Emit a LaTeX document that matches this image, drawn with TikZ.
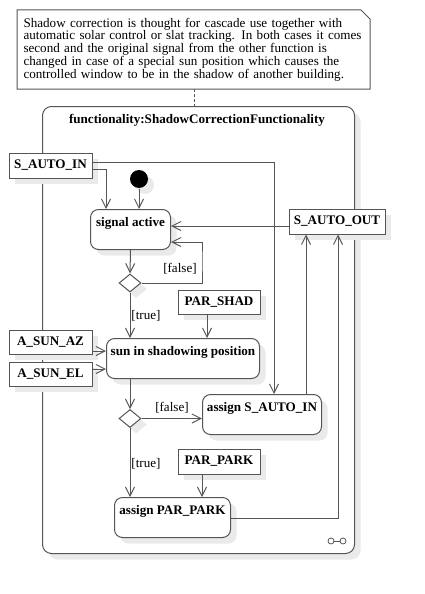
\documentclass[tikz,border=0pt]{standalone}
\usepackage{fontspec}
\setmainfont{Liberation Serif}
\usetikzlibrary{arrows.meta,shapes.geometric,shadows}

\definecolor{edge}{RGB}{85,85,85}
\definecolor{shade}{RGB}{234,234,234}
\newcommand{\diafont}{\fontsize{13.1}{12.8}\selectfont}

\begin{document}
\begin{tikzpicture}[x=1pt,y=-1pt,line width=1pt,
  shady/.style={drop shadow={shadow xshift=6pt,shadow yshift=-6pt,fill=shade,opacity=1}},
  obj/.style={draw=edge,fill=white,shady,font=\diafont\bfseries,inner sep=0pt,minimum height=25pt},
  action/.style={draw=edge,fill=white,shady,rounded corners=8pt,font=\diafont\bfseries,
    inner sep=0pt,text height=17pt,text depth=23pt,anchor=north west},
  decision/.style={diamond,draw=edge,fill=white,shady,inner sep=0pt,minimum width=22pt,minimum height=18pt},
  guard/.style={font=\diafont},
  flow/.style={draw=edge,-{Straight Barb[length=9pt,width=9pt]}}
]
\useasboundingbox (0,0) rectangle (425,594);

% The note
\node[anchor=north west,text width=340pt,inner xsep=6pt,minimum height=78pt,align=left,font=\diafont] (note) at (17,10)
  {Shadow correction is thought for cascade use together with\\
   automatic solar control or slat tracking. In both cases it comes\\
   second and the original signal from the other function is\\
   changed in case of a special sun position which causes the\\
   controlled window to be in the shadow of another building.};
\draw[edge] (note.north west) -- ([xshift=-9pt]note.north east) -- ([yshift=-9pt]note.north east)
  -- (note.south east) -- (note.south west) -- cycle;

% The frame
\node[draw=edge,fill=white,shady,rounded corners=9pt,anchor=north west,minimum width=312pt,minimum height=447pt] (func) at (42,106) {};
\node[font=\diafont\bfseries] (functitle) at (197,120) {functionality:ShadowCorrectionFunctionality};
\draw[edge,dash pattern=on 3pt off 2pt] (note.south -| 194,0) -- (func.north -| 194,0);
\draw[edge,line width=0.8pt,fill=white] (331,541) circle (3pt) (343,541) circle (3pt);
\draw[edge,line width=0.8pt] (334,541) -- (340,541);

% The actions
\node[action,minimum width=80pt] (sigact) at (90,209) {signal active};
\node[action,minimum width=153pt] (sunpos) at (106,338) {sun in shadowing position};
\node[action,minimum width=119pt] (assignin) at (202,394) {assign S\_AUTO\_IN};
\node[action,minimum width=116pt] (assignpark) at (114,497) {assign PAR\_PARK};
\node[circle,fill=black,shady,minimum size=18pt,inner sep=0pt] (init) at (139,179) {};
\node[decision] (dec1) at (130,283) {};
\node[decision] (dec2) at (130,418.5) {};

% The objects
\node[obj,minimum width=83pt] (sautoin) at (50.5,165.5) {S\_AUTO\_IN};
\node[obj,minimum width=96pt] (sautoout) at (337,221.5) {S\_AUTO\_OUT};
\node[obj,minimum width=82pt,minimum height=24pt] (parshad) at (219,302) {PAR\_SHAD};
\node[obj,minimum width=83pt,minimum height=24pt] (asunaz) at (50.5,342) {A\_SUN\_AZ};
\node[obj,minimum width=83pt,minimum height=24pt] (asunel) at (50.5,374) {A\_SUN\_EL};
\node[obj,minimum width=82pt] (parpark) at (219,461.5) {PAR\_PARK};

% The flows
\draw[flow] (init) -- (sigact.north -| init);
\draw[flow] (sautoin.east |- 0,169) -| (sigact.north -| 106,0);
\draw[flow] (sautoin.east |- 0,162) -| (assignin.north -| 274,0);
\draw[flow] (sautoout.west |- 0,226) -- (sigact.east |- 0,226);
\draw[flow] (sigact.south) -- (dec1.north);
\draw[flow] (dec1.east) -| (202,260) |- (sigact.east |- 0,242);
\draw[flow] (dec1.south) -- (sunpos.north -| dec1.south);
\draw[flow] (parshad.south -| 207,0) -- (sunpos.north -| 207,0);
\draw[flow] (asunaz.east |- 0,351) -- (sunpos.west |- 0,351);
\draw[flow] (asunel.east |- 0,369) -- (sunpos.west |- 0,369);
\draw[flow] (sunpos.south -| dec2.north) -- (dec2.north);
\draw[flow] (dec2.east) -- (assignin.west |- dec2.east);
\draw[flow] (assignin.north -| 306,0) -- (sautoout.south -| 306,0);
\draw[flow] (dec2.south) -- (assignpark.north -| dec2.south);
\draw[flow] (parpark.south -| 202,0) -- (assignpark.north -| 202,0);
\draw[flow] (assignpark.east |- 0,518) -| (sautoout.south -| 338,0);

% The guards
\node[guard] (false1) at (180,269) {[false]};
\node[guard] (true1) at (146,316) {[true]};
\node[guard] (false2) at (172,408) {[false]};
\node[guard] (true2) at (146,464) {[true]};
\end{tikzpicture}
\end{document}
